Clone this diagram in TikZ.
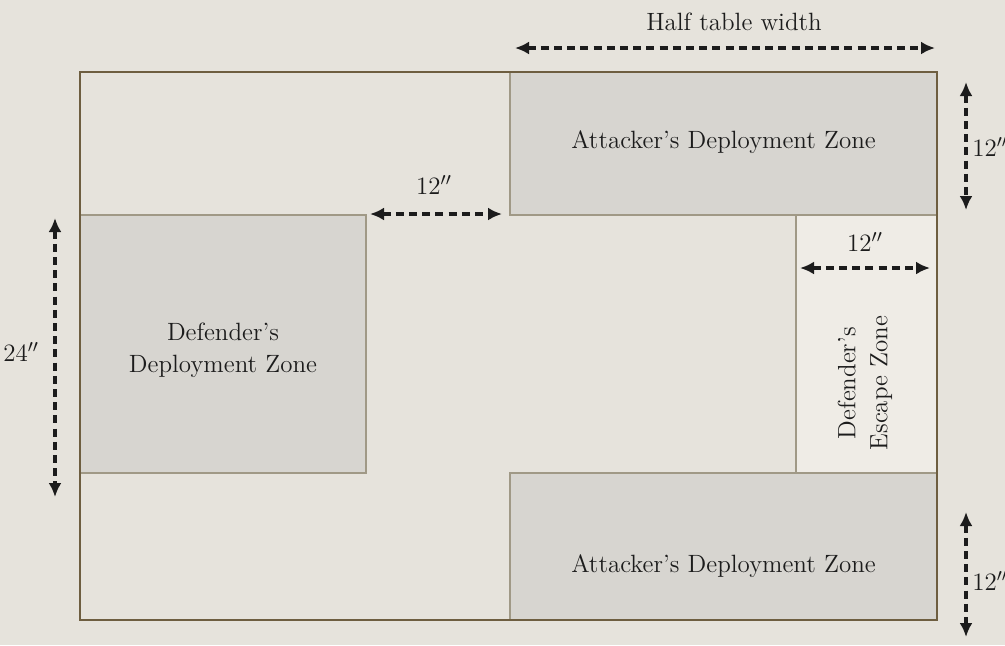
\documentclass[tikz,border=0pt]{standalone}
\usetikzlibrary{arrows.meta}

\definecolor{paper}{HTML}{E6E3DC}
\definecolor{tableedge}{HTML}{6E5E40}
\definecolor{zoneedge}{HTML}{A09986}
\definecolor{zonefill}{HTML}{D7D5D0}
\definecolor{escapefill}{HTML}{EFECE6}
\definecolor{ink}{HTML}{1C1C1C}

\tikzset{
  zone/.style={draw=zoneedge, line width=0.8pt, fill=zonefill, inner sep=0pt},
  lbl/.style={text=ink, font=\fontsize{12.5}{16}\selectfont, align=center},
  measure/.style={draw=ink, line width=1.6pt, dash pattern=on 4pt off 2.6pt,
    {Latex[length=7pt,width=6.5pt]}-{Latex[length=7pt,width=6.5pt]}}
}

\begin{document}
\begin{tikzpicture}[x=0.5pt,y=-0.5pt]
    \useasboundingbox[fill=paper] (0,0) rectangle (1005,645);

    %Zones
    \node[zone, minimum width=213.5pt, minimum height=71.5pt] (atktop) at (723.5,143.5) {};
    \node[zone, minimum width=213.5pt, minimum height=73.5pt] (atkbot) at (723.5,546.5) {};
    \node[zone, minimum width=143pt, minimum height=129pt] (defdep) at (223,344) {};
    \node[zone, fill=escapefill, minimum width=70.5pt, minimum height=129pt] (escape) at (866.5,344) {};

    %Table
    \node[draw=tableedge, line width=0.8pt, minimum width=428.5pt, minimum height=274pt,
      inner sep=0pt] (table) at (508.5,346) {};

    \node[lbl] (atktoptxt) at (723.5,142) {Attacker's Deployment Zone};
    \node[lbl] (atkbottxt) at (723.5,566) {Attacker's Deployment Zone};
    \node[lbl] (defdeptxt) at (223,350) {Defender's\\Deployment Zone};
    \node[lbl, rotate=90] (escapetxt) at (865,383) {Defender's\\Escape Zone};

    %Measures
    \coordinate (halfL) at (515,48);
    \coordinate (halfR) at (935,48);
    \draw[measure] (halfL) -- (halfR);
    \node[lbl] (halftxt) at (734,22) {Half table width};

    \coordinate (gapL) at (370,214);
    \coordinate (gapR) at (502,214);
    \draw[measure] (gapL) -- (gapR);
    \node[lbl] (gaptxt) at (434,185) {12$''$};

    \coordinate (topT) at (966,82);
    \coordinate (topB) at (966,210);
    \draw[measure] (topT) -- (topB);
    \node[lbl, anchor=west, inner sep=0pt] (toptxt) at (972,147) {12$''$};

    \coordinate (defT) at (55,218);
    \coordinate (defB) at (55,497);
    \draw[measure] (defT) -- (defB);
    \node[lbl, anchor=east] (deftxt) at (46,352) {24$''$};

    \coordinate (botT) at (966,512);
    \coordinate (botB) at (966,637);
    \draw[measure] (botT) -- (botB);
    \node[lbl, anchor=west, inner sep=0pt] (bottxt) at (972,581) {12$''$};

    \coordinate (escL) at (800,268);
    \coordinate (escR) at (930,268);
    \draw[measure] (escL) -- (escR);
    \node[lbl] (esctxt) at (865,242) {12$''$};
  \end{tikzpicture}
\end{document}
